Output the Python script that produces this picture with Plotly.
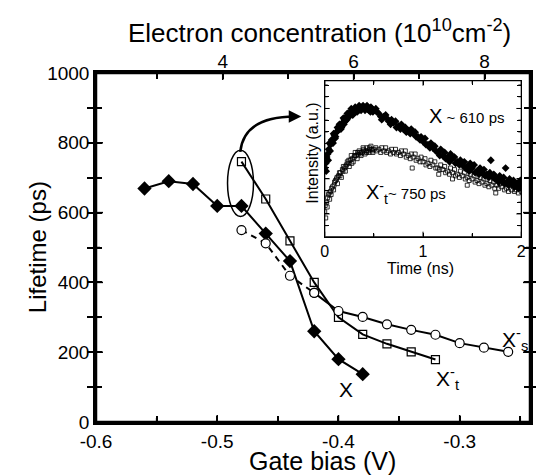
import plotly.graph_objects as go

# ---------------- main panel data ----------------
bias_X = [-0.56, -0.54, -0.52, -0.50, -0.48, -0.46, -0.44, -0.42, -0.40, -0.38]
life_X = [669, 690, 682, 619, 619, 540, 461, 260, 180, 137]

bias_Xt = [-0.48, -0.46, -0.44, -0.42, -0.40, -0.38, -0.36, -0.34, -0.32]
life_Xt = [746, 639, 519, 400, 300, 251, 224, 201, 179]

bias_Xs_dash = [-0.48, -0.46, -0.44, -0.42]
life_Xs_dash = [550, 512, 419, 370]
bias_Xs = [-0.42, -0.40, -0.38, -0.36, -0.34, -0.32, -0.30, -0.28, -0.26]
life_Xs = [370, 318, 301, 280, 264, 250, 226, 213, 201]

x_tickvals = [-0.6, -0.55, -0.5, -0.45, -0.4, -0.35, -0.3, -0.25]
x_ticktext = ["-0.6", "", "-0.5", "", "-0.4", "", "-0.3", ""]
y_tickvals = [0, 100, 200, 300, 400, 500, 600, 700, 800, 900, 1000]
y_ticktext = ["0", "", "200", "", "400", "", "600", "", "800", "", "1000"]
top_tickvals = [3, 4, 5, 6, 7, 8]
top_ticktext = ["", "4", "", "6", "", "8"]

# ---------------- inset data (time in ns, intensity a.u.) ----------------
tX_a = [0.00, 0.02, 0.04, 0.06, 0.08, 0.10, 0.12, 0.14, 0.16, 0.18, 0.20, 0.22, 0.24, 0.26, 0.28,
        0.30, 0.32, 0.34, 0.36, 0.38, 0.40, 0.42, 0.44, 0.46, 0.48, 0.50, 0.55, 0.60, 0.65, 0.70,
        0.75, 0.80, 0.85, 0.90, 0.95, 1.00, 1.05, 1.10, 1.15, 1.20, 1.25, 1.30, 1.35, 1.40, 1.45,
        1.50, 1.55, 1.60, 1.65, 1.70, 1.75, 1.80, 1.85, 1.90, 1.95, 2.00]
iX_a = [0.44, 0.51, 0.56, 0.59, 0.62, 0.65, 0.67, 0.69, 0.71, 0.73, 0.75, 0.77, 0.78, 0.80, 0.80,
        0.81, 0.82, 0.82, 0.83, 0.83, 0.83, 0.83, 0.83, 0.82, 0.82, 0.81, 0.79, 0.77, 0.74, 0.73,
        0.71, 0.69, 0.68, 0.66, 0.64, 0.61, 0.59, 0.57, 0.54, 0.52, 0.51, 0.50, 0.48, 0.46, 0.45,
        0.44, 0.42, 0.41, 0.40, 0.39, 0.37, 0.36, 0.35, 0.34, 0.34, 0.33]
tX_b = [0.01, 0.03, 0.05, 0.07, 0.09, 0.11, 0.13, 0.15, 0.17, 0.19, 0.21, 0.23, 0.25, 0.27, 0.29,
        0.31, 0.33, 0.35, 0.37, 0.39, 0.41, 0.43, 0.45, 0.47, 0.49, 0.52, 0.57, 0.62, 0.67, 0.72,
        0.77, 0.82, 0.87, 0.92, 0.97, 1.02, 1.07, 1.12, 1.17, 1.22, 1.27, 1.32, 1.37, 1.42, 1.47,
        1.52, 1.57, 1.62, 1.67, 1.69, 1.72, 1.77, 1.82, 1.84, 1.87, 1.92, 1.97, 1.99]
iX_b = [0.47, 0.53, 0.60, 0.62, 0.66, 0.64, 0.70, 0.72, 0.70, 0.76, 0.74, 0.79, 0.77, 0.82, 0.79,
        0.83, 0.80, 0.84, 0.81, 0.84, 0.81, 0.84, 0.81, 0.83, 0.80, 0.82, 0.77, 0.78, 0.72, 0.74,
        0.69, 0.70, 0.66, 0.67, 0.62, 0.63, 0.57, 0.58, 0.52, 0.54, 0.48, 0.51, 0.46, 0.48, 0.42,
        0.46, 0.40, 0.43, 0.38, 0.49, 0.40, 0.35, 0.38, 0.44, 0.33, 0.36, 0.31, 0.36]
tX_c = [0.015, 0.035, 0.055, 0.085, 0.105, 0.135, 0.165, 0.195, 0.225, 0.255, 0.285, 0.315, 0.345,
        0.375, 0.405, 0.435, 0.465, 0.53, 0.58, 0.63, 0.68, 0.73, 0.78, 0.83, 0.88, 0.93, 0.98,
        1.03, 1.08, 1.13, 1.18, 1.23, 1.28, 1.33, 1.38, 1.43, 1.48, 1.53, 1.58, 1.63, 1.68, 1.73,
        1.78, 1.83, 1.88, 1.93, 1.98]
iX_c = [0.42, 0.49, 0.55, 0.60, 0.63, 0.68, 0.69, 0.72, 0.75, 0.78, 0.78, 0.80, 0.81,
        0.82, 0.82, 0.82, 0.80, 0.80, 0.75, 0.76, 0.75, 0.70, 0.72, 0.67, 0.69, 0.64, 0.64,
        0.59, 0.60, 0.55, 0.56, 0.50, 0.53, 0.47, 0.49, 0.44, 0.47, 0.41, 0.44, 0.39, 0.41, 0.37,
        0.39, 0.34, 0.37, 0.32, 0.35]

tXt_a = [0.00, 0.02, 0.04, 0.06, 0.08, 0.10, 0.12, 0.14, 0.16, 0.18, 0.20, 0.22, 0.24, 0.26, 0.28,
         0.30, 0.32, 0.34, 0.36, 0.38, 0.40, 0.42, 0.44, 0.46, 0.48, 0.50, 0.55, 0.60, 0.65, 0.70,
         0.75, 0.80, 0.85, 0.90, 0.95, 1.00, 1.05, 1.10, 1.15, 1.20, 1.25, 1.30, 1.35, 1.40, 1.45,
         1.50, 1.55, 1.60, 1.65, 1.70, 1.75, 1.80, 1.85, 1.90, 1.95, 2.00]
iXt_a = [0.16, 0.22, 0.27, 0.29, 0.32, 0.35, 0.37, 0.39, 0.41, 0.43, 0.44, 0.46, 0.47, 0.49, 0.50,
         0.51, 0.52, 0.53, 0.54, 0.54, 0.55, 0.55, 0.55, 0.56, 0.56, 0.56, 0.56, 0.55, 0.55, 0.54,
         0.54, 0.53, 0.52, 0.51, 0.50, 0.48, 0.47, 0.46, 0.44, 0.43, 0.42, 0.41, 0.40, 0.39, 0.38,
         0.37, 0.36, 0.35, 0.34, 0.33, 0.33, 0.32, 0.31, 0.30, 0.30, 0.29]
tXt_b = [0.01, 0.03, 0.05, 0.07, 0.09, 0.11, 0.13, 0.15, 0.17, 0.19, 0.21, 0.23, 0.25, 0.27, 0.29,
         0.31, 0.33, 0.35, 0.37, 0.39, 0.41, 0.43, 0.45, 0.47, 0.49, 0.52, 0.57, 0.62, 0.67, 0.72,
         0.77, 0.82, 0.87, 0.89, 0.92, 0.97, 1.02, 1.07, 1.12, 1.16, 1.17, 1.22, 1.27, 1.30, 1.32,
         1.37, 1.42, 1.45, 1.47, 1.52, 1.57, 1.62, 1.67, 1.72, 1.74, 1.77, 1.82, 1.87, 1.92, 1.97, 1.99]
iXt_b = [0.12, 0.25, 0.24, 0.31, 0.30, 0.36, 0.34, 0.41, 0.38, 0.45, 0.42, 0.48, 0.45, 0.52, 0.48,
         0.54, 0.50, 0.55, 0.52, 0.57, 0.53, 0.57, 0.54, 0.58, 0.54, 0.57, 0.54, 0.57, 0.53, 0.56,
         0.52, 0.55, 0.50, 0.44, 0.53, 0.48, 0.50, 0.45, 0.48, 0.40, 0.43, 0.45, 0.40, 0.37, 0.43,
         0.38, 0.41, 0.33, 0.36, 0.39, 0.34, 0.37, 0.32, 0.35, 0.28, 0.31, 0.34, 0.29, 0.32, 0.28, 0.31]
tXt_c = [0.005, 0.025, 0.045, 0.065, 0.095, 0.125, 0.155, 0.185, 0.215, 0.245, 0.275, 0.305, 0.335,
         0.365, 0.395, 0.425, 0.455, 0.485, 0.53, 0.58, 0.63, 0.68, 0.73, 0.78, 0.83, 0.88, 0.93,
         0.98, 1.03, 1.08, 1.13, 1.18, 1.23, 1.28, 1.33, 1.38, 1.43, 1.48, 1.53, 1.58, 1.63, 1.68,
         1.73, 1.78, 1.83, 1.88, 1.93, 1.98]
iXt_c = [0.20, 0.19, 0.28, 0.27, 0.33, 0.38, 0.39, 0.42, 0.45, 0.49, 0.47, 0.52, 0.54,
         0.53, 0.56, 0.54, 0.57, 0.55, 0.55, 0.57, 0.54, 0.56, 0.53, 0.55, 0.51, 0.53, 0.49,
         0.51, 0.46, 0.49, 0.44, 0.46, 0.41, 0.44, 0.39, 0.42, 0.37, 0.40, 0.35, 0.38, 0.33, 0.36,
         0.31, 0.34, 0.30, 0.33, 0.29, 0.32]

inset_x_tickvals = [0, 0.5, 1, 1.5, 2]
inset_x_ticktext = ["0", "", "1", "", "2"]
inset_y_tickvals = [0.0709, 0.146, 0.2211, 0.2962, 0.3713, 0.4464, 0.5215, 0.5966, 0.6717,
                    0.7468, 0.8219, 0.897, 0.9721]
inset_y_major = [False, True, False, False, True, False, False, True, False, False, True, False, False]

FONT = "Liberation Sans, Arial, Helvetica, sans-serif"
BLACK = "black"

X_RANGE = [-0.6, -0.242]
Y_RANGE = [0, 1000]
TOP_RANGE = [2.064, 8.695]
IX_RANGE = [0, 2]
IY_RANGE = [0, 1]

fig = go.Figure()

# main curves
fig.add_trace(go.Scatter(x=bias_X, y=life_X, mode="lines+markers",
                         line=dict(color=BLACK, width=2),
                         marker=dict(symbol="diamond", size=11, color=BLACK)))
fig.add_trace(go.Scatter(x=bias_Xt, y=life_Xt, mode="lines+markers",
                         line=dict(color=BLACK, width=2),
                         marker=dict(symbol="square-open", size=8, color=BLACK, line=dict(width=1.2))))
fig.add_trace(go.Scatter(x=bias_Xs_dash, y=life_Xs_dash, mode="lines+markers",
                         line=dict(color=BLACK, width=2, dash="6px,5px"),
                         marker=dict(symbol="circle", size=9, color="white", line=dict(color=BLACK, width=1.2))))
fig.add_trace(go.Scatter(x=bias_Xs, y=life_Xs, mode="lines+markers",
                         line=dict(color=BLACK, width=2),
                         marker=dict(symbol="circle", size=9, color="white", line=dict(color=BLACK, width=1.2))))

# invisible trace for top axis
fig.add_trace(go.Scatter(x=top_tickvals, y=[500] * len(top_tickvals), xaxis="x2", yaxis="y",
                         mode="markers", marker=dict(opacity=0), showlegend=False, hoverinfo="skip"))

# inset curves
fig.add_trace(go.Scatter(x=tXt_a + tXt_b + tXt_c, y=iXt_a + iXt_b + iXt_c, xaxis="x3", yaxis="y3",
                         mode="markers",
                         marker=dict(symbol="square-open", size=4, color=BLACK, line=dict(width=0.8))))
fig.add_trace(go.Scatter(x=tX_a + tX_b + tX_c, y=iX_a + iX_b + iX_c, xaxis="x3", yaxis="y3",
                         mode="markers",
                         marker=dict(symbol="diamond", size=6, color=BLACK)))

fig.update_layout(
    width=536, height=476,
    margin=dict(l=96, r=6, t=73, b=54, autoexpand=False),
    paper_bgcolor="white", plot_bgcolor="white",
    showlegend=False,
    font=dict(family=FONT, color=BLACK),
    xaxis=dict(showgrid=False, zeroline=False, showline=True, linecolor=BLACK, linewidth=2.5,
               mirror=True, range=X_RANGE,
               tickmode="array", tickvals=x_tickvals, ticktext=x_ticktext,
               ticks="inside", ticklen=6, tickwidth=1.5, tickcolor=BLACK,
               tickfont=dict(size=19, color=BLACK), anchor="y"),
    yaxis=dict(showgrid=False, zeroline=False, showline=True, linecolor=BLACK, linewidth=2.5,
               mirror="allticks", range=Y_RANGE,
               tickmode="array", tickvals=y_tickvals, ticktext=y_ticktext,
               ticks="inside", ticklen=6, tickwidth=1.5, tickcolor=BLACK,
               tickfont=dict(size=19, color=BLACK), anchor="x"),
    xaxis2=dict(showgrid=False, zeroline=False, showline=False, overlaying="x", side="top", anchor="y",
                range=TOP_RANGE, tickmode="array", tickvals=top_tickvals, ticktext=top_ticktext,
                ticks="inside", ticklen=6, tickwidth=1.5, tickcolor=BLACK,
                tickfont=dict(size=19, color=BLACK)),
    xaxis3=dict(showgrid=False, zeroline=False, showline=True, linecolor=BLACK, linewidth=1.2,
                domain=[0.527, 0.980], anchor="y3", range=IX_RANGE, mirror="allticks",
                tickmode="array", tickvals=inset_x_tickvals, ticktext=inset_x_ticktext,
                ticks="inside", ticklen=4, tickwidth=1, tickcolor=BLACK,
                tickfont=dict(size=16, color=BLACK)),
    yaxis3=dict(showgrid=False, zeroline=False, showline=True, linecolor=BLACK, linewidth=1.2,
                domain=[0.531, 0.978], anchor="x3", range=IY_RANGE, mirror="allticks",
                tickmode="array", tickvals=inset_y_tickvals, showticklabels=False,
                ticks="inside", ticklen=4, tickwidth=1, tickcolor=BLACK),
)

# ---- frames and tick marks drawn as shapes in the axes' own data units ----
# tick lengths expressed as fractions of each axis span (style only)
MAIN_H_PX, MAIN_W_PX = 349.0, 434.0
INS_H_PX, INS_W_PX = 156.0, 196.6


def span(r):
    return r[1] - r[0]


shapes = []
shapes.append(dict(type="rect", xref="paper", yref="paper", x0=0, x1=1, y0=0, y1=1,
                   line=dict(color=BLACK, width=2.5), fillcolor="rgba(0,0,0,0)"))
shapes.append(dict(type="rect", xref="x3", yref="y3", x0=IX_RANGE[0], x1=IX_RANGE[1],
                   y0=IY_RANGE[0], y1=IY_RANGE[1],
                   line=dict(color=BLACK, width=1.2), fillcolor="rgba(0,0,0,0)"))

# main bottom ticks (x) and top ticks (x2)
for v, t in zip(x_tickvals, x_ticktext):
    ln = (7 if t else 4) / MAIN_H_PX * span(Y_RANGE)
    shapes.append(dict(type="line", xref="x", yref="y", x0=v, x1=v, y0=Y_RANGE[0], y1=Y_RANGE[0] + ln,
                       line=dict(color=BLACK, width=1.5)))
for v, t in zip(top_tickvals, top_ticktext):
    ln = (7 if t else 4) / MAIN_H_PX * span(Y_RANGE)
    shapes.append(dict(type="line", xref="x2", yref="y", x0=v, x1=v, y0=Y_RANGE[1], y1=Y_RANGE[1] - ln,
                       line=dict(color=BLACK, width=1.5)))
# main left and right ticks
for v, t in zip(y_tickvals, y_ticktext):
    ln = (7 if t else 4) / MAIN_W_PX * span(X_RANGE)
    shapes.append(dict(type="line", xref="x", yref="y", y0=v, y1=v, x0=X_RANGE[0], x1=X_RANGE[0] + ln,
                       line=dict(color=BLACK, width=1.5)))
    shapes.append(dict(type="line", xref="x", yref="y", y0=v, y1=v, x0=X_RANGE[1], x1=X_RANGE[1] - ln,
                       line=dict(color=BLACK, width=1.5)))
# inset ticks
for v, t in zip(inset_x_tickvals, inset_x_ticktext):
    ln = (5 if t else 3) / INS_H_PX * span(IY_RANGE)
    shapes.append(dict(type="line", xref="x3", yref="y3", x0=v, x1=v, y0=IY_RANGE[0], y1=IY_RANGE[0] + ln,
                       line=dict(color=BLACK, width=1)))
    shapes.append(dict(type="line", xref="x3", yref="y3", x0=v, x1=v, y0=IY_RANGE[1], y1=IY_RANGE[1] - ln,
                       line=dict(color=BLACK, width=1)))
for v, m in zip(inset_y_tickvals, inset_y_major):
    ln = (5 if m else 3) / INS_W_PX * span(IX_RANGE)
    shapes.append(dict(type="line", xref="x3", yref="y3", y0=v, y1=v, x0=IX_RANGE[0], x1=IX_RANGE[0] + ln,
                       line=dict(color=BLACK, width=1)))
    shapes.append(dict(type="line", xref="x3", yref="y3", y0=v, y1=v, x0=IX_RANGE[1], x1=IX_RANGE[1] - ln,
                       line=dict(color=BLACK, width=1)))

# ellipse and curved arrow
shapes.append(dict(type="circle", xref="x", yref="y", x0=-0.4915, x1=-0.4701, y0=589, y1=779,
                   line=dict(color=BLACK, width=1.5)))
shapes.append(dict(type="path", xref="x", yref="y", path="M -0.481,774 Q -0.478,875 -0.436,875.5",
                   line=dict(color=BLACK, width=2.5)))
for s in shapes:
    fig.add_shape(**s)

fig.add_annotation(x=-0.4307, y=875.5, xref="x", yref="y", ax=-12, ay=0, text="",
                   showarrow=True, arrowhead=2, arrowsize=1, arrowwidth=2.5, arrowcolor=BLACK, standoff=0)

ann = []
# axis titles
ann.append(dict(x=0.516, y=1.120, xref="paper", yref="paper",
                text="Electron concentration (10<sup>10</sup>cm<sup>-2</sup>)",
                font=dict(size=26)))
ann.append(dict(x=0.521, y=-0.112, xref="paper", yref="paper", text="Gate bias (V)",
                font=dict(size=25)))
ann.append(dict(x=-0.136, y=0.501, xref="paper", yref="paper", text="Lifetime (ps)",
                textangle=-90, font=dict(size=24)))
# curve labels
ann.append(dict(x=-0.394, y=92, xref="x", yref="y", text="X", font=dict(size=21)))
ann.append(dict(x=-0.321, y=126, xref="x", yref="y", text="X<sup>-</sup><sub>t</sub>",
                font=dict(size=21), xanchor="left"))
ann.append(dict(x=-0.267, y=235, xref="x", yref="y", text="X<sup>-</sup><sub>s</sub>",
                font=dict(size=21), xanchor="left"))
# inset texts
ann.append(dict(x=(427 - 324.7) / 98.3, y=(236.7 - 116) / 156, xref="x3", yref="y3",
                text="X<span style='font-size:15px'> ~ 610 ps</span>",
                font=dict(size=20), xanchor="left"))
ann.append(dict(x=(364 - 324.7) / 98.3, y=(236.7 - 193) / 156, xref="x3", yref="y3",
                text="X<sup>-</sup><sub>t</sub><span style='font-size:15px'>~ 750 ps</span>",
                font=dict(size=20), xanchor="left"))
ann.append(dict(x=(420.7 - 96) / 434, y=(422 - 268) / 349, xref="paper", yref="paper",
                text="Time (ns)", font=dict(size=16)))
ann.append(dict(x=(311.7 - 96) / 434, y=(422 - 153) / 349, xref="paper", yref="paper",
                text="Intensity (a.u.)", textangle=-90, font=dict(size=16)))
for a in ann:
    a.setdefault("xanchor", "center")
    a.setdefault("yanchor", "middle")
    fig.add_annotation(showarrow=False, **a)

fig.write_html("out.html", config={"displayModeBar": False},
               post_script="document.body.style.margin='0px';")
